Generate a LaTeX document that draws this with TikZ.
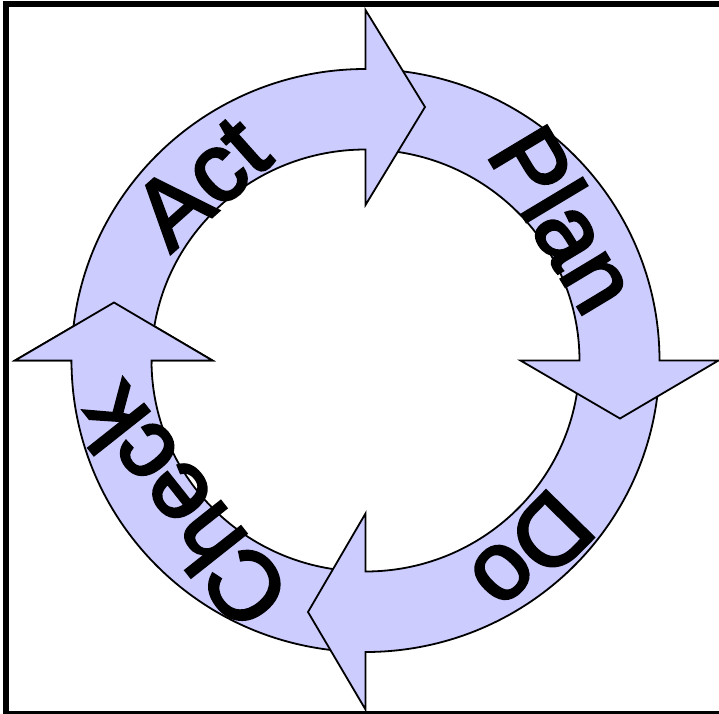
\documentclass[tikz,border=0pt]{standalone}
\usepackage{fontspec}
\setmainfont{Liberation Sans}
\newfontfamily\cyclefont{Liberation Sans}[FakeBold=3]
\definecolor{ringfill}{RGB}{204,204,255}
\begin{document}
\begin{tikzpicture}[x=1pt,y=1pt,
  seg/.style={fill=ringfill, draw=black, line width=1.8pt, line join=miter},
  lbl/.style={font=\cyclefont\fontsize{97}{116}\selectfont, anchor=base, inner sep=0pt},
  frame/.style={draw=black, line width=6pt}]
% page area
\clip (-365.5,-352.5) rectangle (353.5,360.5);
% outer frame (its right side lies past the page edge)
\path[frame] (-359.5,-353.5) rectangle (370,356.8);

% Check: from the bottom round to the left, head pointing up
\path[seg] (-95:294 and 291.5) arc[start angle=-95, end angle=-180, x radius=294, y radius=291.5]
  -- (-350.5,0) -- (-251.5,58) -- (-153,0) -- (-214,0)
  arc[start angle=-180, end angle=-95, x radius=214, y radius=211] -- cycle;
% Do: from the right round to the bottom, head pointing left
\path[seg] (-5:294 and 291.5) arc[start angle=-5, end angle=-90, x radius=294, y radius=291.5]
  -- (0,-349) -- (-57.5,-251.5) -- (0,-153) -- (0,-211)
  arc[start angle=-90, end angle=-5, x radius=214, y radius=211] -- cycle;
% Plan: from the top round to the right, head pointing down
\path[seg] (85:294 and 291.5) arc[start angle=85, end angle=0, x radius=294, y radius=291.5]
  -- (353,0) -- (254.5,-58) -- (155,0) -- (214,0)
  arc[start angle=0, end angle=85, x radius=214, y radius=211] -- cycle;
% Act: from the left round to the top, head pointing right
\path[seg] (175:294 and 291.5) arc[start angle=175, end angle=90, x radius=294, y radius=291.5]
  -- (0,350.5) -- (59.5,253.5) -- (0,155.5) -- (0,211)
  arc[start angle=90, end angle=175, x radius=214, y radius=211] -- cycle;
% the Check head lies over the start of Act
\begin{scope}
  \clip (-365,-3) rectangle (-100,120);
  \path[seg] (-95:294 and 291.5) arc[start angle=-95, end angle=-180, x radius=294, y radius=291.5]
    -- (-350.5,0) -- (-251.5,58) -- (-153,0) -- (-214,0)
    arc[start angle=-180, end angle=-95, x radius=214, y radius=211] -- cycle;
\end{scope}

% labels
\node[lbl, rotate=41.7] (act) at (132.9:209.5) {Act};
\node[lbl, rotate=-59] (plan) at (36.1:210.4) {Plan};
\node[lbl, rotate=-134.5] (do) at (-49.8:221) {Do};
\node[lbl, rotate=128.4] (check) at (-141.4:201) {Check};
\end{tikzpicture}
\end{document}
